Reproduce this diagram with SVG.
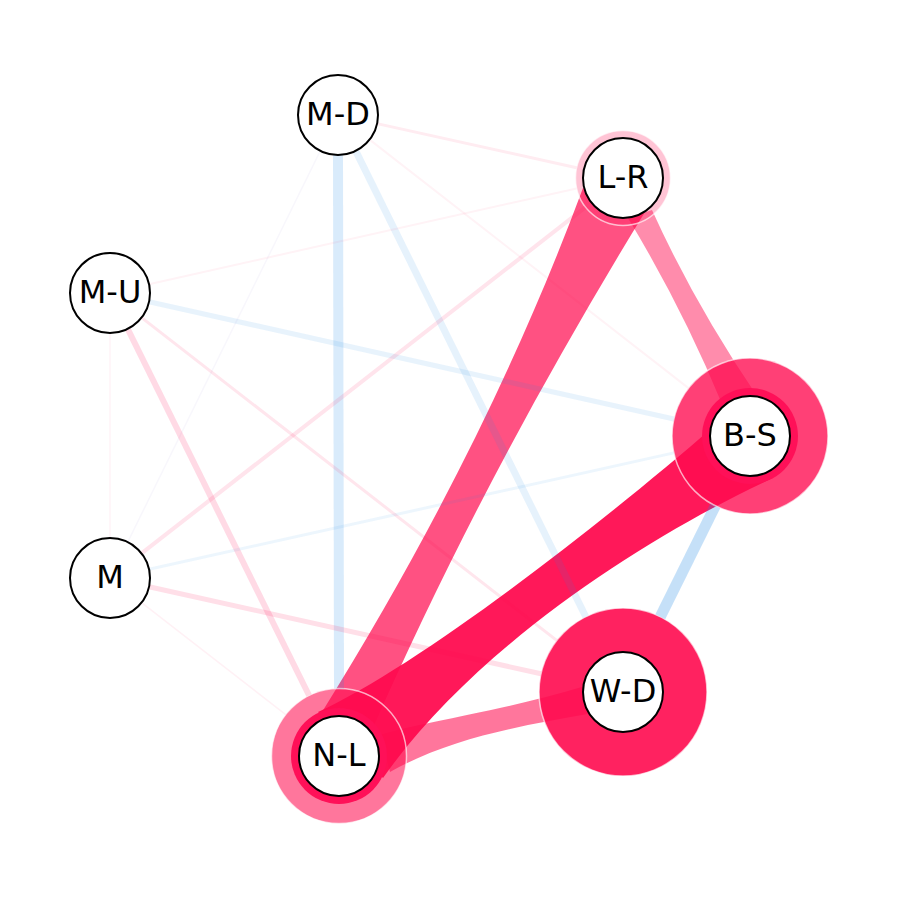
<svg xmlns="http://www.w3.org/2000/svg" width="897" height="897" viewBox="0 0 897 897">
<style>
.rib{fill:#ff0a4f;stroke:none}
.loop{fill:#ff0a4f;stroke:#ffffff;stroke-opacity:0.65;stroke-width:1.5}
.inner{fill:#ff1058}
.b{stroke:#1e88e5;fill:none;stroke-linecap:butt}
.p{stroke:#ff0a4f;fill:none;stroke-linecap:butt}
.node circle{fill:#ffffff;stroke:#000000;stroke-width:2}
.node text{font-family:"DejaVu Sans","Liberation Sans",sans-serif;font-size:32px;fill:#000000;text-anchor:middle}
</style>
<rect width="897" height="897" fill="#ffffff"/>
<g id="connectors">
  <path class="rib" fill-opacity="0.71" d="M583,188 C518,363 431,537 322,712 L372,730 C448,557 539,385 645,212 Z"/>
  <path class="rib" fill-opacity="0.47" d="M628,218 Q683,309 722,404 L757,396 Q694,303 652,210 Z"/>
  <path class="rib" fill-opacity="0.56" d="M380,735 C420,722 500,712 585,686 L588,714 C520,726 450,738 390,772 Z"/>
  <path class="rib" fill-opacity="0.94" d="M318,712 C420,665 600,525 712,428 L773,478 C660,530 480,640 383,778 Z"/>
</g>
<g id="loops">
  <circle class="loop" cx="623" cy="178" r="47.5" fill-opacity="0.24"/>
  <circle class="loop" cx="750" cy="436" r="78" fill-opacity="0.78"/>
  <circle class="loop" cx="623" cy="692" r="84" fill-opacity="0.9"/>
  <circle class="loop" cx="339" cy="756" r="67.5" fill-opacity="0.56"/>
  <circle class="inner" cx="750" cy="436" r="48"/>
  <circle class="inner" cx="339" cy="756" r="48"/>
</g>
<g id="thin-connectors">
  <line class="b" x1="338" y1="155" x2="339" y2="688.5" stroke-width="10" stroke-opacity="0.17"/>
  <line class="b" x1="715.3" y1="505.9" x2="660.3" y2="616.8" stroke-width="11" stroke-opacity="0.26"/>
  <line class="b" x1="355.7" y1="150.9" x2="585.8" y2="616.7" stroke-width="7" stroke-opacity="0.11"/>
  <line class="b" x1="149" y1="301.7" x2="673.9" y2="419" stroke-width="5" stroke-opacity="0.1"/>
  <line class="b" x1="149" y1="569.3" x2="673.9" y2="452.9" stroke-width="3" stroke-opacity="0.08"/>
  <line x1="127.7" y1="542.1" x2="320.3" y2="150.9" stroke="#8a6fd0" stroke-width="1.5" stroke-opacity="0.06"/>
  <line class="p" x1="127.7" y1="328.9" x2="309.1" y2="695.5" stroke-width="6" stroke-opacity="0.15"/>
  <line class="p" x1="149" y1="586.7" x2="541" y2="673.8" stroke-width="5" stroke-opacity="0.13"/>
  <line class="p" x1="585.5" y1="207.2" x2="141.5" y2="553.4" stroke-width="4" stroke-opacity="0.11"/>
  <line class="p" x1="141.6" y1="317.6" x2="556.7" y2="640.4" stroke-width="3" stroke-opacity="0.1"/>
  <line class="p" x1="377.1" y1="123.6" x2="576.6" y2="167.7" stroke-width="3" stroke-opacity="0.08"/>
  <line class="p" x1="369.6" y1="139.6" x2="688.5" y2="388.1" stroke-width="2" stroke-opacity="0.05"/>
  <line class="p" x1="149" y1="284.2" x2="576.6" y2="188.4" stroke-width="2" stroke-opacity="0.05"/>
  <line class="p" x1="110" y1="333" x2="110" y2="538" stroke-width="1.5" stroke-opacity="0.05"/>
  <line class="p" x1="141.6" y1="602.6" x2="285.7" y2="714.6" stroke-width="1.5" stroke-opacity="0.06"/>
</g>
<g id="node-MD" class="node" transform="translate(338,115)"><circle r="40"/><text y="10">M-D</text></g>
<g id="node-LR" class="node" transform="translate(623,178)"><circle r="40"/><text y="10">L-R</text></g>
<g id="node-MU" class="node" transform="translate(110,293)"><circle r="40"/><text y="10">M-U</text></g>
<g id="node-BS" class="node" transform="translate(750,436)"><circle r="40"/><text y="10">B-S</text></g>
<g id="node-M" class="node" transform="translate(110,578)"><circle r="40"/><text y="10">M</text></g>
<g id="node-WD" class="node" transform="translate(623,692)"><circle r="40"/><text y="10">W-D</text></g>
<g id="node-NL" class="node" transform="translate(339,756)"><circle r="40"/><text y="10">N-L</text></g>
</svg>
